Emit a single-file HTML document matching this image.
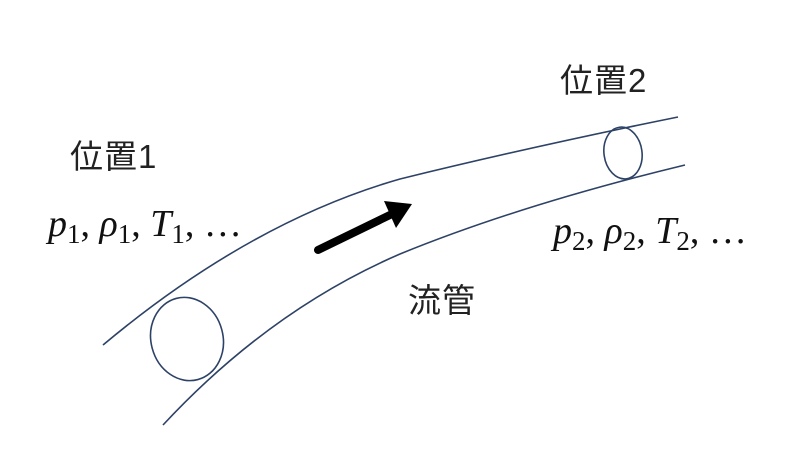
<!DOCTYPE html>
<html><head><meta charset="utf-8"><style>
body{margin:0;background:#fff;width:800px;height:476px;overflow:hidden;position:relative}
.t{position:absolute;font-family:"Liberation Sans","Noto Sans CJK JP",sans-serif;font-size:33px;color:#222;line-height:1;white-space:nowrap;letter-spacing:1px}
.m{position:absolute;font-family:"Liberation Serif",serif;font-size:38px;color:#111;line-height:1;white-space:nowrap}
.m i{font-style:italic}
.m sub{font-size:27px;vertical-align:-7px}
</style></head><body>
<svg width="800" height="476" style="position:absolute;left:0;top:0">
<g fill="none" stroke="#2d4266" stroke-width="1.6">
<path d="M103,345 Q250,222 400,179 Q530,147 678,117"/>
<path d="M163,425 Q270,310 400,254 Q520,205 685,165"/>
<ellipse cx="187" cy="339" rx="36" ry="42" transform="rotate(-15 187 339)"/>
<ellipse cx="623" cy="153" rx="19" ry="26" transform="rotate(-8 623 153)"/>
</g>
<line x1="318" y1="250" x2="392" y2="214" stroke="#000" stroke-width="8" stroke-linecap="round"/>
<polygon points="412,204 384,201 396,228" fill="#000"/>
</svg>
<div class="t" style="left:70px;top:140px">位置1</div>
<div class="t" style="left:560px;top:64px">位置2</div>
<div class="t" style="left:408px;top:284px">流管</div>
<div class="m" style="left:48px;top:205px"><i>p</i><sub>1</sub>, <i>ρ</i><sub>1</sub>, <i>T</i><sub>1</sub>, …</div>
<div class="m" style="left:553px;top:212px"><i>p</i><sub>2</sub>, <i>ρ</i><sub>2</sub>, <i>T</i><sub>2</sub>, …</div>
</body></html>
